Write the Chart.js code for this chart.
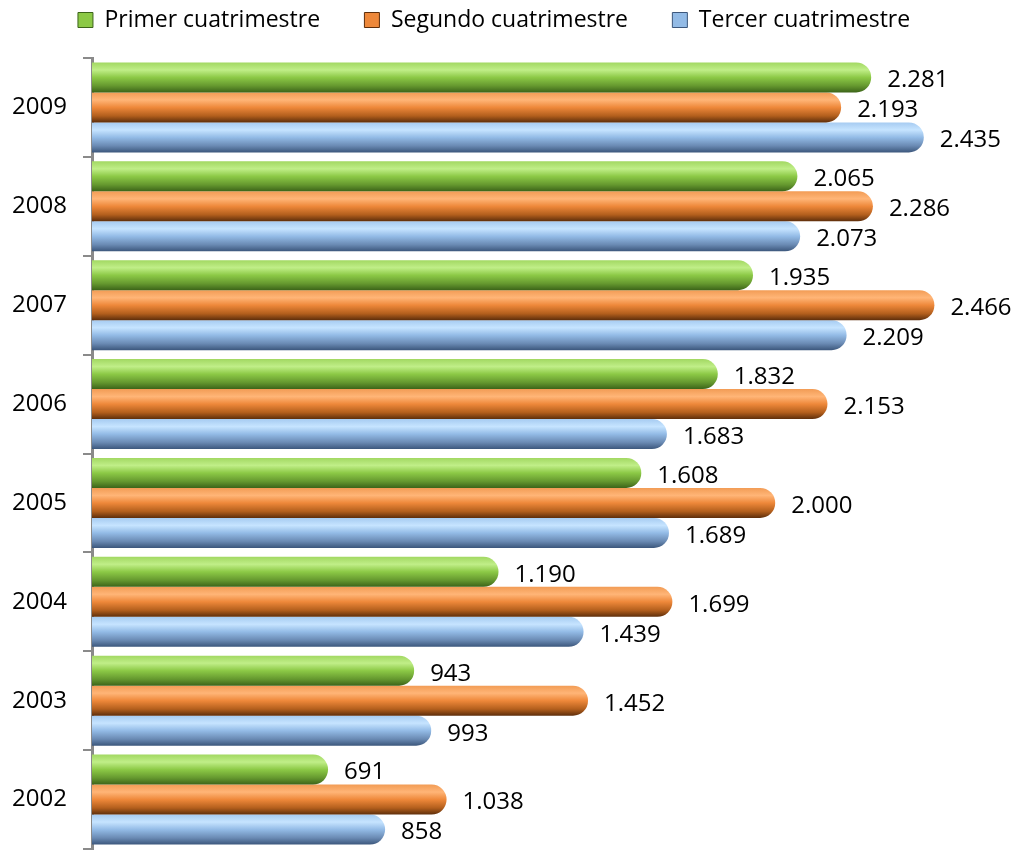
<!DOCTYPE html>
<html>
<head>
<meta charset="utf-8">
<script src="https://cdn.jsdelivr.net/npm/chart.js@4"></script>
<style>
  html, body { margin: 0; padding: 0; background: #fff; }
  #wrap { width: 1012px; height: 852px; }
</style>
</head>
<body>
<div id="wrap"><canvas id="chart" width="1012" height="852"></canvas></div>
<script>
// values (2009 on top)
const years = ['2009', '2008', '2007', '2006', '2005', '2004', '2003', '2002'];
const primer = [2281, 2065, 1935, 1832, 1608, 1190, 943, 691];
const segundo = [2193, 2286, 2466, 2153, 2000, 1699, 1452, 1038];
const tercer = [2435, 2073, 2209, 1683, 1689, 1439, 993, 858];
const seriesNames = ['Primer cuatrimestre', 'Segundo cuatrimestre', 'Tercer cuatrimestre'];

const FONT = '"Open Sans", "Liberation Sans", sans-serif';
const FSIZE = 24;
const CAT_PCT = 0.91;

// light top -> highlight -> base -> dark bottom, like a cylinder
const palette = [
    { base: '#8fce48', stops: ['#a2d862', '#c0ee88', '#8cc946', '#65982f', '#3c6419'] },
    { base: '#ef8a3c', stops: ['#f29c55', '#ffb577', '#ee883a', '#b35f1d', '#5e2e0b'] },
    { base: '#95bde8', stops: ['#a6cbf1', '#c6e4ff', '#93bbe6', '#6a8ab3', '#3c577c'] }
];

function fmt(v) {
    return String(v).replace(/\B(?=(\d{3})+(?!\d))/g, '.');
}

function barFill(ctx) {
    const chart = ctx.chart;
    const pal = palette[ctx.datasetIndex];
    const y = chart.scales.y;
    if (ctx.type !== 'data' || !y || !chart.chartArea) return pal.base;
    const catH = (y.bottom - y.top) / years.length;
    const barH = catH * CAT_PCT / 3;
    const center = y.getPixelForValue(ctx.dataIndex);
    const top = center - 1.5 * barH + ctx.datasetIndex * barH;
    const g = chart.ctx.createLinearGradient(0, top, 0, top + barH);
    g.addColorStop(0, pal.stops[0]);
    g.addColorStop(0.25, pal.stops[1]);
    g.addColorStop(0.5, pal.stops[2]);
    g.addColorStop(0.78, pal.stops[3]);
    g.addColorStop(1, pal.stops[4]);
    return g;
}

// value labels right of each bar
const valueLabels = {
    id: 'valueLabels',
    afterDatasetsDraw(chart) {
        const c = chart.ctx;
        c.save();
        c.font = FSIZE + 'px ' + FONT;
        c.fillStyle = '#000';
        c.textBaseline = 'middle';
        c.textAlign = 'left';
        chart.data.datasets.forEach((ds, di) => {
            chart.getDatasetMeta(di).data.forEach((bar, i) => {
                c.fillText(fmt(ds.data[i]), bar.x + 16, bar.y + 3);
            });
        });
        c.restore();
    }
};

const datasets = [primer, segundo, tercer].map((data, i) => ({
    label: seriesNames[i],
    data: data,
    backgroundColor: barFill,
    borderWidth: 0,
    borderRadius: 20,
    borderSkipped: 'start',
    categoryPercentage: CAT_PCT,
    barPercentage: 1.0
}));

// trailing spaces widen the gaps between legend entries
const legendGaps = ['      ', '      ', '    '];

new Chart(document.getElementById('chart'), {
    type: 'bar',
    data: { labels: years, datasets: datasets },
    options: {
        indexAxis: 'y',
        responsive: false,
        devicePixelRatio: 1,
        animation: false,
        layout: { padding: 0 },
        plugins: {
            legend: {
                position: 'top',
                labels: {
                    font: { family: FONT, size: 23 },
                    color: '#000',
                    boxWidth: 15,
                    boxHeight: 15,
                    padding: 8.5,
                    generateLabels: () => seriesNames.map((n, i) => ({
                        text: n + legendGaps[i],
                        fillStyle: palette[i].stops[2],
                        strokeStyle: palette[i].stops[4],
                        lineWidth: 1,
                        datasetIndex: i
                    }))
                }
            },
            // empty title used as a spacer between legend and bars
            title: {
                display: true,
                text: '',
                position: 'top',
                weight: 500,
                font: { size: 10, lineHeight: 1 },
                padding: { top: 0, bottom: 6.5 }
            },
            tooltip: { enabled: false }
        },
        scales: {
            x: {
                display: false,
                min: 0,
                max: 2500
            },
            y: {
                afterFit: (s) => {
                    s.width = 92;
                    s.paddingTop = 0;
                    s.paddingBottom = 3;
                },
                ticks: {
                    font: { family: FONT, size: FSIZE },
                    color: '#000',
                    padding: 16
                },
                grid: {
                    offset: true,
                    drawOnChartArea: false,
                    tickLength: 9,
                    color: '#8a8a8a',
                    lineWidth: 2
                },
                border: { display: true, color: '#8a8a8a', width: 3 }
            },
            // empty right-hand axis that keeps room for the value labels
            yRoom: {
                type: 'category',
                position: 'right',
                display: true,
                grid: { display: false },
                ticks: { display: false },
                border: { display: false },
                afterFit: (s) => { s.width = 66; }
            }
        }
    },
    plugins: [valueLabels]
});
</script>
</body>
</html>
